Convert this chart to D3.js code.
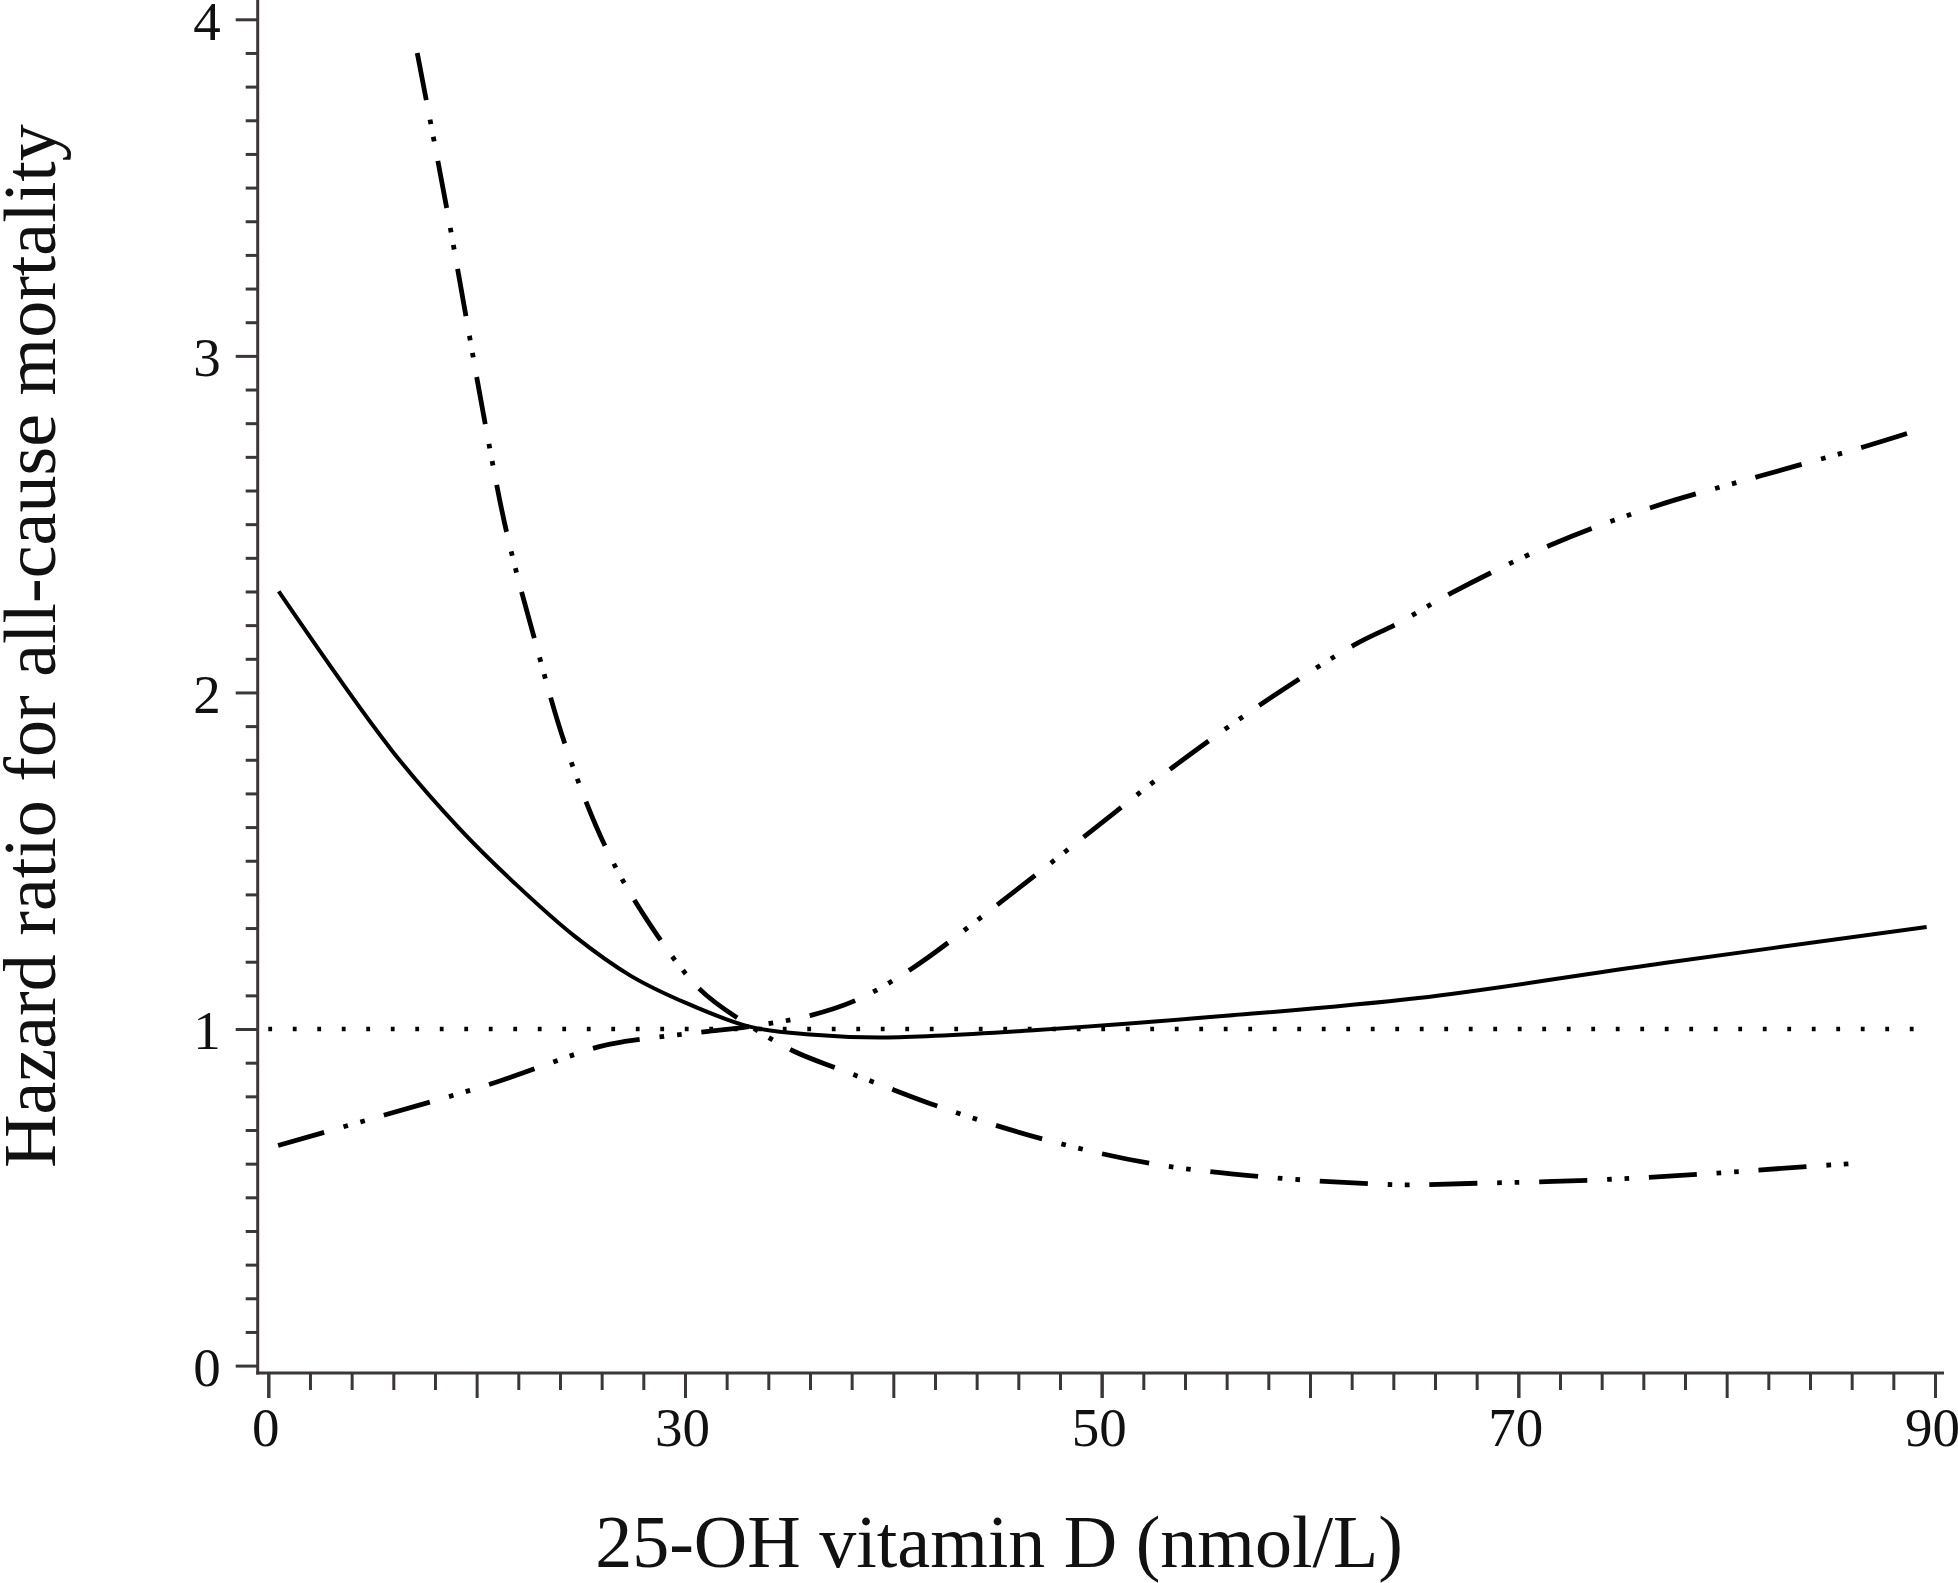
<!DOCTYPE html>
<html>
<head>
<meta charset="utf-8">
<script src="https://cdn.jsdelivr.net/npm/d3@7"></script>
<style>
  body { margin: 0; background: #fff; }
  .chart text { font-family: "Liberation Serif", "Times New Roman", serif; fill: #111; }
</style>
</head>
<body>
<div class="chart"></div>
<script>
// values: x = 25-OH vitamin D (nmol/L), y = hazard ratio
const hrCurve = [
  {x: 10.5, y: 2.30}, {x: 15.9, y: 1.83}, {x: 19.2, y: 1.594}, {x: 21.9, y: 1.429},
  {x: 24.7, y: 1.276}, {x: 27.4, y: 1.158}, {x: 30.1, y: 1.076}, {x: 33.1, y: 1.007},
  {x: 36.0, y: 0.984}, {x: 39.5, y: 0.975}, {x: 46.9, y: 0.997}, {x: 55.5, y: 1.037},
  {x: 65.2, y: 1.092}, {x: 77.0, y: 1.196}, {x: 89.6, y: 1.303}
];

// confidence limit that starts high on the left and ends low on the right
const ciFalling = [
  {x: 17.15, y: 3.90}, {x: 18.56, y: 3.44}, {x: 19.49, y: 3.117}, {x: 20.42, y: 2.795},
  {x: 21.45, y: 2.473}, {x: 22.8, y: 2.154}, {x: 24.27, y: 1.841}, {x: 26.23, y: 1.535},
  {x: 28.19, y: 1.323}, {x: 30.73, y: 1.117}, {x: 33.08, y: 1.011}, {x: 35.23, y: 0.934},
  {x: 37.39, y: 0.881}, {x: 39.15, y: 0.84}, {x: 42.3, y: 0.767}, {x: 47.25, y: 0.672},
  {x: 52.4, y: 0.600}, {x: 57.7, y: 0.561}, {x: 63.0, y: 0.540}, {x: 64.75, y: 0.537},
  {x: 68.2, y: 0.542}, {x: 73.5, y: 0.551}, {x: 78.8, y: 0.569}, {x: 84.0, y: 0.592},
  {x: 86.0, y: 0.600}
];

// confidence limit that starts low on the left and ends high on the right
const ciRising = [
  {x: 10.47, y: 0.654}, {x: 15.66, y: 0.746}, {x: 20.74, y: 0.838}, {x: 25.84, y: 0.947},
  {x: 27.2, y: 0.964}, {x: 31.12, y: 0.993}, {x: 33.08, y: 1.007}, {x: 36.0, y: 1.04},
  {x: 38.3, y: 1.088}, {x: 40.9, y: 1.18}, {x: 45.2, y: 1.379}, {x: 49.3, y: 1.578},
  {x: 53.4, y: 1.777}, {x: 57.7, y: 1.967}, {x: 62.15, y: 2.142}, {x: 64.24, y: 2.206},
  {x: 66.8, y: 2.296}, {x: 71.58, y: 2.439}, {x: 76.5, y: 2.552}, {x: 81.6, y: 2.643},
  {x: 86.6, y: 2.73}, {x: 88.9, y: 2.774}
];

const refLine = [{x: 10, y: 1}, {x: 89.4, y: 1}];

const xLabelValues = [10, 30, 50, 70, 90];
const xLabels = ["0", "30", "50", "70", "90"];
const xMajorTicks = d3.range(10, 91, 10);
const xMinorTicks = d3.range(10, 91, 2).filter(v => v % 10 !== 0);
const yLabelValues = [0, 1, 2, 3, 4];
const yMinorTicks = d3.range(1, 40).filter(v => v % 10 !== 0).map(v => v / 10);

const xTitle = "25-OH vitamin D (nmol/L)";
const yTitle = "Hazard ratio for all-cause mortality";

const width = 1958;
const height = 1583;
const axisColor = "#3b3637";
const axisX = 257.7;   // position of the vertical axis line
const axisY = 1373;    // position of the horizontal axis line

const svg = d3.select('.chart').append('svg')
  .attr('width', width)
  .attr('height', height)
  .style('display', 'block');

const xScale = d3.scaleLinear()
  .domain([10, 90])
  .range([268.3, 1935]);

const yScale = d3.scaleLinear()
  .domain([0, 4])
  .range([1365.6, 19.3]);

// axes
function styleAxis(g) {
  g.select('.domain').remove();
  g.selectAll('.tick line').attr('stroke', axisColor).attr('stroke-width', 3);
}

svg.append('g')
  .attr('transform', `translate(0, ${axisY})`)
  .call(d3.axisBottom(xScale).tickValues(xMinorTicks).tickSize(17).tickFormat(''))
  .call(styleAxis);

svg.append('g')
  .attr('transform', `translate(0, ${axisY})`)
  .call(d3.axisBottom(xScale).tickValues(xMajorTicks).tickSize(25).tickFormat(''))
  .call(styleAxis);

svg.append('g')
  .attr('class', 'axis x-axis')
  .attr('transform', `translate(0, ${axisY})`)
  .call(d3.axisBottom(xScale)
    .tickValues(xLabelValues)
    .tickSize(25)
    .tickPadding(9)
    .tickFormat((d, i) => xLabels[i]))
  .call(styleAxis)
  .call(g => g.selectAll('text')
    .attr('dx', -3)
    .style('font-family', '"Liberation Serif", serif')
    .style('font-size', '55px')
    .attr('fill', '#111'));

svg.append('g')
  .attr('transform', `translate(${axisX}, 0)`)
  .call(d3.axisLeft(yScale).tickValues(yMinorTicks).tickSize(12).tickFormat(''))
  .call(styleAxis);

svg.append('g')
  .attr('class', 'axis y-axis')
  .attr('transform', `translate(${axisX}, 0)`)
  .call(d3.axisLeft(yScale)
    .tickValues(yLabelValues)
    .tickSize(22)
    .tickPadding(15)
    .tickFormat(d3.format('d')))
  .call(styleAxis)
  .call(g => g.selectAll('text')
    .attr('dy', '0.36em')
    .style('font-family', '"Liberation Serif", serif')
    .style('font-size', '55px')
    .attr('fill', '#111'));

// axis lines
svg.append('line')
  .attr('x1', axisX).attr('x2', axisX)
  .attr('y1', 0).attr('y2', axisY + 1.5)
  .attr('stroke', axisColor)
  .attr('stroke-width', 3);

svg.append('line')
  .attr('x1', axisX - 1.5).attr('x2', 1944)
  .attr('y1', axisY).attr('y2', axisY)
  .attr('stroke', axisColor)
  .attr('stroke-width', 3);

// curves
const line = d3.line()
  .x(d => xScale(d.x))
  .y(d => yScale(d.y))
  .curve(d3.curveCatmullRom.alpha(0.5));

const dashDotDot = "48,20,4.6,12.8,4.6,19.8";

svg.append('path')
  .datum(refLine)
  .attr('d', line)
  .attr('fill', 'none')
  .attr('stroke', '#000')
  .attr('stroke-width', 4.5)
  .attr('stroke-dasharray', '3.8,20.7');

svg.append('path')
  .datum(ciFalling)
  .attr('d', line)
  .attr('fill', 'none')
  .attr('stroke', '#000')
  .attr('stroke-width', 4.8)
  .attr('stroke-dasharray', dashDotDot);

svg.append('path')
  .datum(ciRising)
  .attr('d', line)
  .attr('fill', 'none')
  .attr('stroke', '#000')
  .attr('stroke-width', 4.8)
  .attr('stroke-dasharray', dashDotDot);

svg.append('path')
  .datum(hrCurve)
  .attr('d', line)
  .attr('fill', 'none')
  .attr('stroke', '#000')
  .attr('stroke-width', 4);

// titles
svg.append('text')
  .attr('x', 999)
  .attr('y', 1567)
  .attr('text-anchor', 'middle')
  .style('font-size', '74px')
  .text(xTitle);

svg.append('text')
  .attr('transform', 'translate(55, 646) rotate(-90)')
  .attr('text-anchor', 'middle')
  .style('font-size', '74px')
  .text(yTitle);
</script>
</body>
</html>
